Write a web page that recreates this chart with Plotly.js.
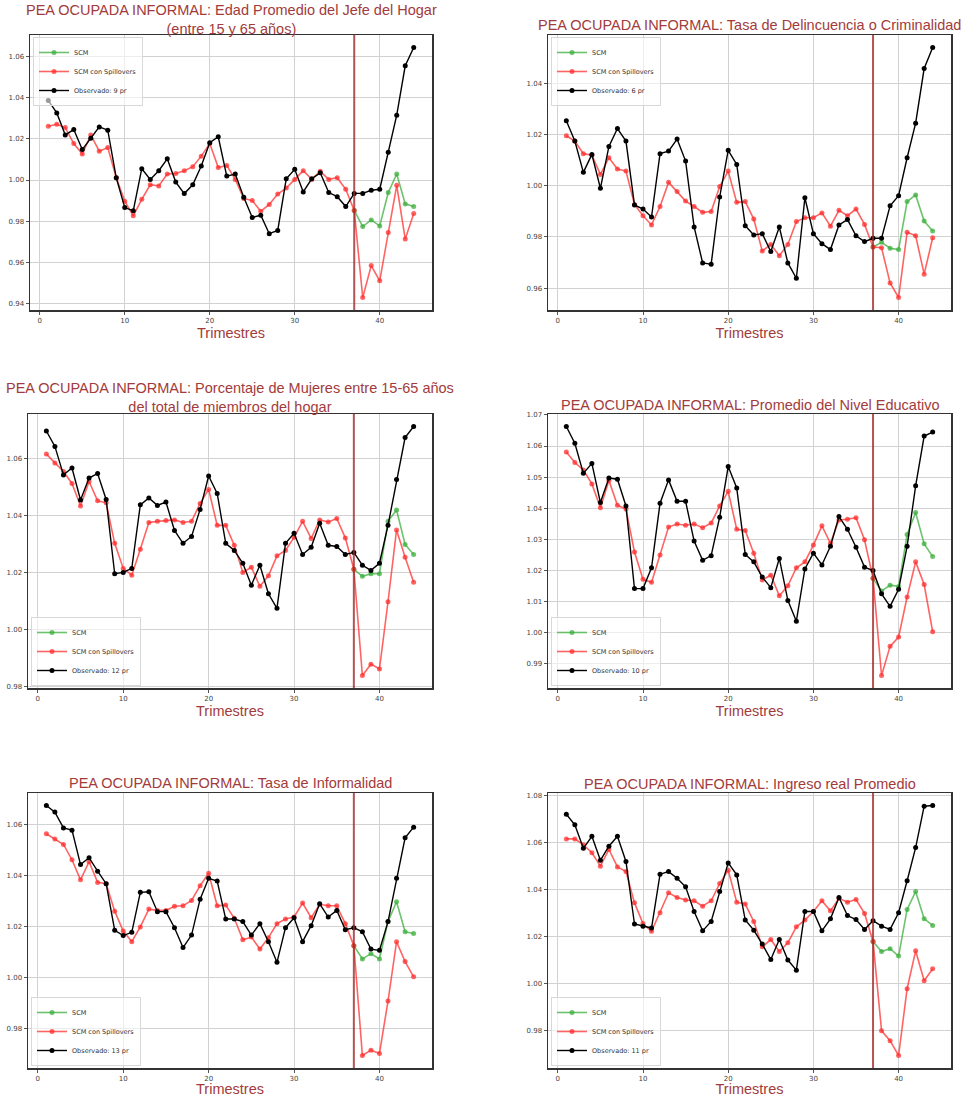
<!DOCTYPE html>
<html>
<head>
<meta charset="utf-8">
<script src="https://cdn.plot.ly/plotly-3.0.1.min.js"></script>
<style>html,body{margin:0;padding:0;background:#fff;}#chart{width:968px;height:1097px;}</style>
</head>
<body>
<div id="chart"></div>
<script>
// ---------------- DATA ----------------
const trimestres = [1,2,3,4,5,6,7,8,9,10,11,12,13,14,15,16,17,18,19,20,21,22,23,24,25,26,27,28,29,30,31,32,33,34,35,36,37,38,39,40,41,42,43,44];
const trimestresPost = [37,38,39,40,41,42,43,44];
const inicioTratamiento = 37;

const titulos = [
  "PEA OCUPADA INFORMAL: Edad Promedio del Jefe del Hogar<br>(entre 15 y 65 años)",
  "PEA OCUPADA INFORMAL: Tasa de Delincuencia o Criminalidad",
  "PEA OCUPADA INFORMAL: Porcentaje de Mujeres entre 15-65 años<br>del total de miembros del hogar",
  "PEA OCUPADA INFORMAL: Promedio del Nivel Educativo",
  "PEA OCUPADA INFORMAL: Tasa de Informalidad",
  "PEA OCUPADA INFORMAL: Ingreso real Promedio"
];
const etiquetasObservado = ["Observado: 9 pr","Observado: 6 pr","Observado: 12 pr","Observado: 10 pr","Observado: 13 pr","Observado: 11 pr"];

// 1. Edad Promedio del Jefe del Hogar
const obs1 = [1.0387,1.0326,1.0219,1.0245,1.0148,1.0203,1.0258,1.0242,1.0011,0.9866,0.9850,1.0055,1.0003,1.0045,1.0103,0.9990,0.9934,0.9977,1.0068,1.0181,1.0210,1.0019,1.0029,0.9916,0.9818,0.9829,0.9739,0.9755,1.0006,1.0052,0.9942,1.0006,1.0035,0.9939,0.9919,0.9871,0.9935,0.9935,0.9950,0.9955,1.0135,1.0315,1.0555,1.0644];
const spill1 = [1.0261,1.0271,1.0255,1.0177,1.0126,1.0219,1.0140,1.0158,1.0011,0.9897,0.9826,0.9906,0.9977,0.9971,1.0029,1.0032,1.0045,1.0065,1.0116,1.0177,1.0061,1.0071,1.0003,0.9910,0.9900,0.9848,0.9881,0.9932,0.9961,1.0003,1.0045,1.0003,1.0042,1.0003,1.0011,0.9955,0.9852,0.9429,0.9584,0.9510,0.9745,0.9974,0.9713,0.9837];
const scm1 = [0.9852,0.9774,0.9806,0.9777,0.9939,1.0029,0.9884,0.9871];

// 2. Tasa de Delincuencia o Criminalidad
const obs2 = [1.0253,1.0174,1.0052,1.0122,0.9990,1.0153,1.0223,1.0174,0.9925,0.9909,0.9878,1.0125,1.0135,1.0182,1.0096,0.9839,0.9699,0.9694,0.9956,1.0138,1.0083,0.9844,0.9808,0.9813,0.9743,0.9839,0.9699,0.9639,0.9953,0.9813,0.9774,0.9751,0.9847,0.9868,0.9805,0.9782,0.9795,0.9795,0.9922,0.9961,1.0109,1.0244,1.0457,1.0539];
const spill2 = [1.0195,1.0174,1.0125,1.0119,1.0044,1.0109,1.0065,1.0057,0.9927,0.9883,0.9847,0.9919,1.0013,0.9977,0.9940,0.9919,0.9896,0.9899,0.9997,1.0057,0.9935,0.9938,0.9870,0.9745,0.9771,0.9727,0.9771,0.9860,0.9875,0.9875,0.9894,0.9842,0.9904,0.9883,0.9909,0.9849,0.9761,0.9758,0.9621,0.9564,0.9818,0.9805,0.9655,0.9797];
const scm2 = [0.9761,0.9779,0.9756,0.9751,0.9938,0.9964,0.9862,0.9823];

// 3. Porcentaje de Mujeres entre 15-65 años
const obs3 = [1.0697,1.0643,1.0543,1.0567,1.0455,1.0532,1.0548,1.0457,1.0196,1.0201,1.0215,1.0438,1.0462,1.0436,1.0448,1.0348,1.0303,1.0327,1.0422,1.0539,1.0478,1.0303,1.0278,1.0233,1.0156,1.0226,1.0126,1.0075,1.0303,1.0338,1.0264,1.0289,1.0373,1.0296,1.0292,1.0264,1.0271,1.0226,1.0208,1.0233,1.0366,1.0527,1.0674,1.0713];
const spill3 = [1.0616,1.0585,1.0555,1.0513,1.0434,1.0520,1.0452,1.0445,1.0303,1.0215,1.0191,1.0282,1.0376,1.0380,1.0383,1.0385,1.0376,1.0380,1.0443,1.0492,1.0366,1.0366,1.0296,1.0201,1.0219,1.0152,1.0189,1.0259,1.0278,1.0324,1.0380,1.0320,1.0385,1.0378,1.0390,1.0322,1.0212,0.9839,0.9879,0.9862,1.0098,1.0350,1.0254,1.0166];
const scm3 = [1.0212,1.0187,1.0196,1.0196,1.0380,1.0420,1.0299,1.0264];

// 4. Promedio del Nivel Educativo
const obs4 = [1.0663,1.0609,1.0512,1.0544,1.0418,1.0497,1.0493,1.0407,1.0141,1.0141,1.0208,1.0416,1.0491,1.0422,1.0422,1.0294,1.0232,1.0247,1.0371,1.0534,1.0465,1.0251,1.0227,1.0178,1.0144,1.0238,1.0103,1.0036,1.0204,1.0255,1.0217,1.0277,1.0373,1.0332,1.0274,1.0210,1.0199,1.0124,1.0084,1.0139,1.0277,1.0472,1.0632,1.0645];
const spill4 = [1.0581,1.0547,1.0523,1.0478,1.0401,1.0489,1.0409,1.0397,1.0259,1.0171,1.0161,1.0249,1.0339,1.0349,1.0345,1.0349,1.0337,1.0352,1.0407,1.0454,1.0332,1.0328,1.0255,1.0169,1.0184,1.0118,1.0150,1.0208,1.0227,1.0281,1.0343,1.0287,1.0362,1.0364,1.0369,1.0298,1.0174,0.9861,0.9955,0.9985,1.0114,1.0227,1.0154,1.0002];
const scm4 = [1.0174,1.0133,1.0152,1.0148,1.0315,1.0386,1.0285,1.0244];

// 5. Tasa de Informalidad
const obs5 = [1.0676,1.0650,1.0588,1.0579,1.0444,1.0471,1.0418,1.0369,1.0186,1.0165,1.0178,1.0335,1.0337,1.0259,1.0259,1.0196,1.0118,1.0167,1.0308,1.0390,1.0379,1.0230,1.0230,1.0220,1.0167,1.0212,1.0141,1.0060,1.0196,1.0235,1.0141,1.0204,1.0290,1.0238,1.0264,1.0188,1.0196,1.0180,1.0112,1.0107,1.0220,1.0390,1.0549,1.0591];
const spill5 = [1.0565,1.0544,1.0523,1.0463,1.0384,1.0455,1.0374,1.0369,1.0261,1.0183,1.0141,1.0199,1.0269,1.0264,1.0264,1.0280,1.0282,1.0303,1.0361,1.0410,1.0282,1.0285,1.0233,1.0149,1.0159,1.0112,1.0157,1.0212,1.0230,1.0238,1.0293,1.0235,1.0288,1.0282,1.0282,1.0212,1.0125,0.9694,0.9715,0.9702,0.9908,1.0141,1.0063,1.0003];
const scm5 = [1.0125,1.0073,1.0094,1.0073,1.0220,1.0298,1.0180,1.0173];

// 6. Ingreso real Promedio
const obs6 = [1.0721,1.0676,1.0576,1.0627,1.0525,1.0585,1.0627,1.0520,1.0254,1.0245,1.0237,1.0466,1.0477,1.0449,1.0412,1.0307,1.0225,1.0265,1.0392,1.0514,1.0463,1.0271,1.0228,1.0169,1.0103,1.0188,1.0101,1.0058,1.0307,1.0307,1.0225,1.0276,1.0367,1.0290,1.0273,1.0231,1.0268,1.0245,1.0231,1.0302,1.0438,1.0579,1.0755,1.0758];
const spill6 = [1.0616,1.0616,1.0591,1.0557,1.0500,1.0571,1.0497,1.0477,1.0344,1.0256,1.0223,1.0302,1.0387,1.0367,1.0356,1.0353,1.0330,1.0353,1.0426,1.0483,1.0347,1.0339,1.0265,1.0157,1.0188,1.0137,1.0174,1.0242,1.0271,1.0307,1.0353,1.0310,1.0364,1.0347,1.0358,1.0299,1.0180,0.9800,0.9758,0.9695,0.9979,1.0140,1.0013,1.0064];
const scm6 = [1.0180,1.0137,1.0149,1.0118,1.0316,1.0392,1.0276,1.0248];

const observados = [obs1, obs2, obs3, obs4, obs5, obs6];
const spillovers = [spill1, spill2, spill3, spill4, spill5, spill6];
const scms = [scm1, scm2, scm3, scm4, scm5, scm6];
const yDticks = [0.02, 0.02, 0.02, 0.01, 0.02, 0.02];

// ---------------- LAYOUT ----------------
const W = 968, H = 1097;
// plot boxes in pixels: [left, right, top, bottom]
const boxes = [
  [30, 432, 35, 310],
  [548, 951, 35, 310],
  [28, 432, 414, 688],
  [548, 951, 414, 688],
  [28, 432, 793, 1068],
  [548, 951, 793, 1068]
];
const titleY = [19, 25, 398, 405, 783, 784];
const legendTop = [true, true, false, false, false, false];

const titleColor = "#a23b3b";
const green = "rgba(60,175,60,0.75)";
const red = "rgba(255,40,40,0.72)";
const black = "#000000";

const traces = [];
const layout = {
  width: W, height: H,
  margin: {l: 0, r: 0, t: 0, b: 0},
  paper_bgcolor: "#ffffff",
  plot_bgcolor: "#ffffff",
  showlegend: true,
  hovermode: false,
  font: {family: "DejaVu Sans, sans-serif", size: 7, color: "#444"},
  annotations: [],
  shapes: []
};

function px2x(p) { return p / W; }
function py2y(p) { return 1 - p / H; }

for (let i = 0; i < 6; i++) {
  const n = i + 1;
  const xa = n === 1 ? "x" : "x" + n;
  const ya = n === 1 ? "y" : "y" + n;
  const xk = n === 1 ? "xaxis" : "xaxis" + n;
  const yk = n === 1 ? "yaxis" : "yaxis" + n;
  const lg = n === 1 ? "legend" : "legend" + n;
  const b = boxes[i];

  const all = observados[i].concat(spillovers[i], scms[i]);
  const ymin = Math.min(...all), ymax = Math.max(...all);
  const pad = (ymax - ymin) * 0.05;
  const xpad = (trimestres[trimestres.length - 1] - trimestres[0]) * 0.05;

  traces.push({
    x: trimestresPost, y: scms[i], xaxis: xa, yaxis: ya, legend: lg,
    type: "scatter", mode: "lines+markers", name: "SCM",
    line: {color: green, width: 1.6}, marker: {color: green, size: 5}
  });
  traces.push({
    x: trimestres, y: spillovers[i], xaxis: xa, yaxis: ya, legend: lg,
    type: "scatter", mode: "lines+markers", name: "SCM con Spillovers",
    line: {color: red, width: 1.6}, marker: {color: red, size: 5}
  });
  traces.push({
    x: trimestres, y: observados[i], xaxis: xa, yaxis: ya, legend: lg,
    type: "scatter", mode: "lines+markers", name: etiquetasObservado[i],
    line: {color: black, width: 1.4}, marker: {color: black, size: 5}
  });

  layout[xk] = {
    domain: [px2x(b[0]), px2x(b[1])],
    anchor: ya,
    range: [trimestres[0] - xpad, trimestres[trimestres.length - 1] + xpad],
    tickvals: [0, 10, 20, 30, 40],
    ticks: "outside", ticklen: 3, tickcolor: "#555",
    tickfont: {size: 7, color: "#444"},
    showgrid: true, gridcolor: "#d2d2d2", gridwidth: 1,
    zeroline: false,
    showline: true, mirror: true, linecolor: "#333", linewidth: 1.5,
    title: {text: "Trimestres", font: {family: "Liberation Sans, Arial, sans-serif", size: 14.5, color: titleColor}, standoff: 4}
  };
  layout[yk] = {
    domain: [py2y(b[3]), py2y(b[2])],
    anchor: xa,
    range: [ymin - pad, ymax + pad],
    dtick: yDticks[i], tick0: 0,
    tickformat: ".2f",
    ticks: "outside", ticklen: 3, tickcolor: "#555",
    tickfont: {size: 7, color: "#444"},
    showgrid: true, gridcolor: "#d2d2d2", gridwidth: 1,
    zeroline: false,
    showline: true, mirror: true, linecolor: "#333", linewidth: 1.5
  };

  layout[lg] = {
    x: px2x(b[0] + 3),
    y: legendTop[i] ? py2y(b[2] + 2) : py2y(b[3] - 2),
    xanchor: "left",
    yanchor: legendTop[i] ? "top" : "bottom",
    bgcolor: "rgba(255,255,255,0.6)",
    bordercolor: "#d8d8d8", borderwidth: 1,
    font: {family: "DejaVu Sans, sans-serif", size: 6.5, color: "#333"},
    itemwidth: 30, tracegroupgap: 0
  };

  layout.shapes.push({
    type: "line", xref: xa, yref: ya + " domain",
    x0: inicioTratamiento, x1: inicioTratamiento, y0: 0, y1: 1,
    line: {color: "rgba(160,40,40,0.8)", width: 2}
  });

  const cx = (b[0] + b[1]) / 2;
  layout.annotations.push({
    text: titulos[i], xref: "paper", yref: "paper",
    x: px2x(cx), y: py2y(titleY[i]), xanchor: "center", yanchor: "middle",
    showarrow: false, align: "center",
    font: {family: "Liberation Sans, Arial, sans-serif", size: 14.5, color: titleColor}
  });
}

Plotly.newPlot("chart", traces, layout, {displayModeBar: false, staticPlot: true});
</script>
</body>
</html>
